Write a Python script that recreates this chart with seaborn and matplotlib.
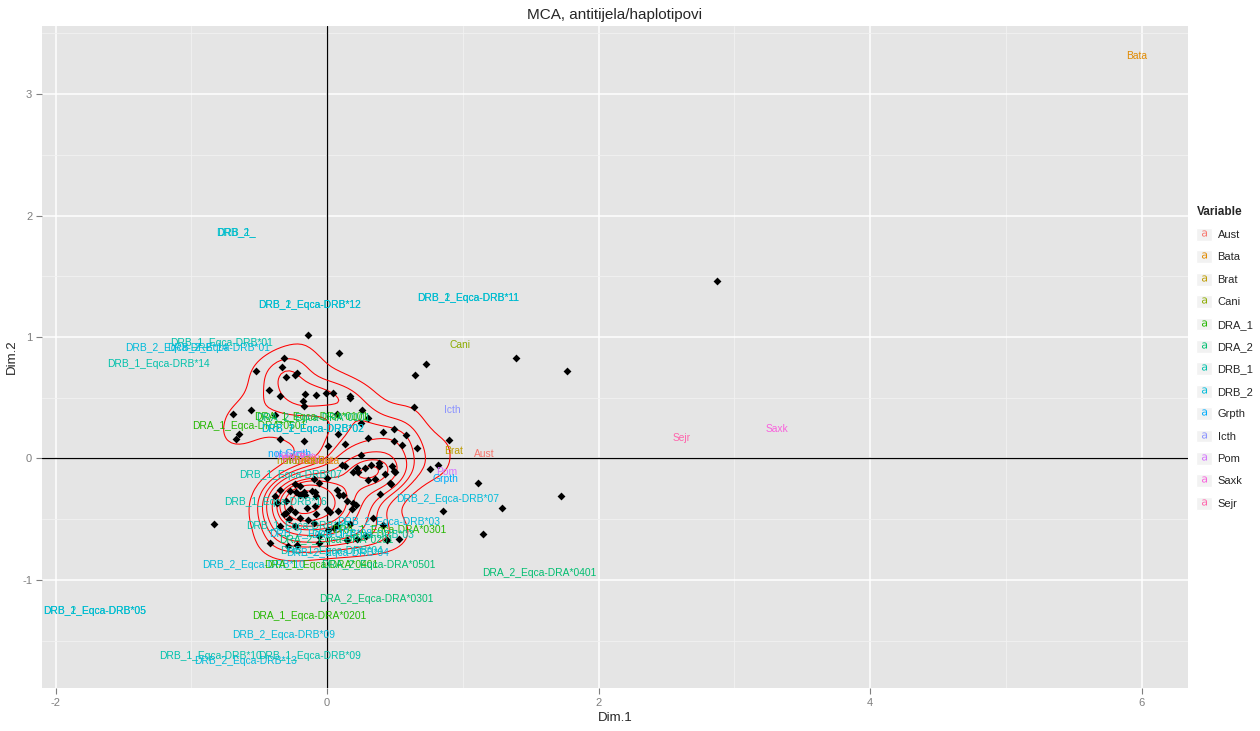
import matplotlib
matplotlib.use("Agg")
import matplotlib.pyplot as plt
from matplotlib.lines import Line2D
from matplotlib.patches import Patch
import seaborn as sns
import pandas as pd

sns.set_theme(style="darkgrid", rc={"axes.facecolor": "#E5E5E5", "grid.color": "white"})
plt.rcParams["font.family"] = ["Liberation Sans", "DejaVu Sans"]
plt.rcParams["axes.unicode_minus"] = False

# individuals (MCA row coordinates)
ind_dim1 = [
    -0.14, 0.09, 0.73, 0.65, -0.32, -0.33, -0.52, -0.30, -0.24, -0.22,
    -0.43, -0.35, -0.16, -0.08, -0.01, 0.04, 0.17, 0.17, -0.18, -0.17,
    -0.56, -0.69, -0.38, 0.64, 0.26, 0.07, 0.30, 0.25, -0.65, -0.67,
    -0.35, -0.17, 0.08, 0.13, 0.01, 0.30, 0.41, 0.49, 0.58, 0.49,
    0.55, 0.66, 0.25, 1.39, 1.77, 0.90, 2.87,
    0.82, 0.76, 1.11, 1.72, 0.85, 1.29, 1.15, 0.53, 0.41, 0.39,
    0.38, 0.38, 0.32, 0.28, 0.22, 0.19, 0.23, 0.48, 0.49, 0.50,
    0.43, 0.35, 0.30, 0.46, 0.47, 0.11, 0.13,
    -0.10, 0.00, -0.06, -0.24, -0.20, -0.35, -0.27, -0.23, -0.20, -0.16,
    -0.17, -0.11, -0.09, -0.08, 0.07, 0.09, 0.12, 0.15, 0.19, -0.38,
    -0.37, -0.30, -0.27, -0.24, -0.15, -0.09, -0.30, -0.32, -0.08, 0.00,
    0.02, 0.08, 0.18, 0.21, -0.28, -0.14, -0.20, -0.24, -0.10, 0.01,
    0.05, 0.07, 0.17, 0.34, -0.06, -0.35, 0.15, 0.22, 0.29, 0.44,
    -0.42, -0.29, -0.22, -0.06, -0.83,
]
ind_dim2 = [
    1.02, 0.87, 0.78, 0.69, 0.83, 0.75, 0.72, 0.67, 0.69, 0.70,
    0.56, 0.51, 0.53, 0.52, 0.54, 0.54, 0.51, 0.50, 0.47, 0.43,
    0.40, 0.37, 0.36, 0.42, 0.40, 0.37, 0.33, 0.29, 0.20, 0.16,
    0.16, 0.14, 0.20, 0.12, 0.10, 0.17, 0.22, 0.24, 0.19, 0.14,
    0.11, 0.09, 0.03, 0.83, 0.72, 0.15, 1.46,
    -0.05, -0.09, -0.20, -0.31, -0.43, -0.41, -0.62, -0.66, -0.55, -0.29,
    -0.04, -0.06, -0.05, -0.08, -0.08, -0.11, -0.11, -0.06, -0.10, -0.11,
    -0.13, -0.17, -0.18, -0.20, -0.21, -0.05, -0.06,
    -0.17, -0.16, -0.20, -0.21, -0.23, -0.26, -0.27, -0.28, -0.30, -0.30,
    -0.28, -0.27, -0.28, -0.31, -0.26, -0.30, -0.30, -0.35, -0.37, -0.31,
    -0.37, -0.35, -0.42, -0.44, -0.41, -0.39, -0.45, -0.46, -0.46, -0.42,
    -0.44, -0.43, -0.42, -0.38, -0.50, -0.51, -0.49, -0.56, -0.53, -0.59,
    -0.57, -0.55, -0.54, -0.49, -0.64, -0.56, -0.67, -0.66, -0.64, -0.67,
    -0.70, -0.72, -0.71, -0.70, -0.54,
]

# categories (MCA column coordinates)
cat_label = [
    "Bata", "DRB_1_", "DRB_2_", "DRB_1_Eqca-DRB*12", "DRB_2_Eqca-DRB*12",
    "DRB_1_Eqca-DRB*11", "DRB_2_Eqca-DRB*11", "Cani", "DRB_1_Eqca-DRB*01",
    "DRB_2_Eqca-DRB*14", "DRB_2_Eqca-DRB*01", "DRB_1_Eqca-DRB*14", "Icth",
    "DRA_1_Eqca-DRA*0101", "DRA_2_Eqca-DRA*0101", "DRA_1_Eqca-DRA*0501",
    "DRB_1_Eqca-DRB*02", "DRB_2_Eqca-DRB*02", "Brat", "Aust", "Pom", "Grpth",
    "Sejr", "Saxk",
    "not Grpth", "not Icth", "not Pom", "not Sejr", "not Saxk", "not Brat",
    "not Cani", "not Aust", "not Bata",
    "DRB_1_Eqca-DRB*07", "DRB_2_Eqca-DRB*07", "DRB_1_Eqca-DRB*16",
    "DRB_2_Eqca-DRB*03", "DRA_1_Eqca-DRA*0301", "DRB_1_Eqca-DRB*03",
    "DRB_1_Eqca-DRB*08", "DRB_2_Eqca-DRB*08", "DRA_2_Eqca-DRA*0201",
    "DRB_1_Eqca-DRB*04", "DRB_2_Eqca-DRB*04", "DRB_2_Eqca-DRB*10",
    "DRA_1_Eqca-DRA*0401", "DRA_2_Eqca-DRA*0501", "DRA_2_Eqca-DRA*0401",
    "DRA_2_Eqca-DRA*0301", "DRA_1_Eqca-DRA*0201", "DRB_2_Eqca-DRB*09",
    "DRB_1_Eqca-DRB*10", "DRB_2_Eqca-DRB*13", "DRB_1_Eqca-DRB*09",
    "DRB_1_Eqca-DRB*05", "DRB_2_Eqca-DRB*05",
]
cat_variable = [
    "Bata", "DRB_1", "DRB_2", "DRB_1", "DRB_2",
    "DRB_1", "DRB_2", "Cani", "DRB_1",
    "DRB_2", "DRB_2", "DRB_1", "Icth",
    "DRA_1", "DRA_2", "DRA_1",
    "DRB_1", "DRB_2", "Brat", "Aust", "Pom", "Grpth",
    "Sejr", "Saxk",
    "Grpth", "Icth", "Pom", "Sejr", "Saxk", "Brat",
    "Cani", "Aust", "Bata",
    "DRB_1", "DRB_2", "DRB_1",
    "DRB_2", "DRA_1", "DRB_1",
    "DRB_1", "DRB_2", "DRA_2",
    "DRB_1", "DRB_2", "DRB_2",
    "DRA_1", "DRA_2", "DRA_2",
    "DRA_2", "DRA_1", "DRB_2",
    "DRB_1", "DRB_2", "DRB_1",
    "DRB_1", "DRB_2",
]
cat_dim1 = [
    5.96, -0.67, -0.67, -0.13, -0.13,
    1.04, 1.04, 0.98, -0.78,
    -1.11, -0.80, -1.24, 0.92,
    -0.12, -0.10, -0.57,
    -0.11, -0.11, 0.93, 1.16, 0.88, 0.87,
    2.61, 3.31,
    -0.28, -0.26, -0.22, -0.20, -0.18, -0.24,
    -0.16, -0.10, -0.05,
    -0.27, 0.89, -0.38,
    0.45, 0.46, 0.26,
    -0.22, -0.05, 0.07,
    0.03, 0.08, -0.54,
    -0.04, 0.38, 1.56,
    0.36, -0.13, -0.32,
    -0.86, -0.60, -0.13,
    -1.71, -1.71,
]
cat_dim2 = [
    3.31, 1.86, 1.86, 1.26, 1.26,
    1.32, 1.32, 0.93, 0.95,
    0.91, 0.91, 0.78, 0.40,
    0.34, 0.33, 0.27,
    0.24, 0.24, 0.06, 0.04, -0.11, -0.17,
    0.17, 0.24,
    0.04, 0.03, 0.01, 0.00, -0.01, -0.02,
    -0.02, -0.02, -0.02,
    -0.14, -0.33, -0.36,
    -0.52, -0.59, -0.63,
    -0.56, -0.62, -0.67,
    -0.76, -0.78, -0.88,
    -0.88, -0.88, -0.94,
    -1.16, -1.30, -1.45,
    -1.63, -1.67, -1.63,
    -1.26, -1.26,
]

variables = ["Aust", "Bata", "Brat", "Cani", "DRA_1", "DRA_2", "DRB_1",
             "DRB_2", "Grpth", "Icth", "Pom", "Saxk", "Sejr"]
hue_colors = ["#F8766D", "#E18A00", "#BE9C00", "#8CAB00", "#24B700", "#00BE70",
              "#00C1AB", "#00BBDA", "#00ACFC", "#8B93FF", "#D575FE", "#F962DD",
              "#FF65AC"]
palette = dict(zip(variables, hue_colors))

# iso-proportion levels for the density contours
density_levels = [0.18, 0.32, 0.45, 0.56, 0.66, 0.75, 0.83, 0.9, 0.96]

ind = pd.DataFrame({"Dim.1": ind_dim1, "Dim.2": ind_dim2})
cats = pd.DataFrame({"label": cat_label, "Variable": cat_variable,
                     "Dim.1": cat_dim1, "Dim.2": cat_dim2})

fig = plt.figure(figsize=(12.6, 7.31), dpi=100)
ax = fig.add_axes([0.0333, 0.0588, 0.9095, 0.9056])

ax.set_xticks([-2, 0, 2, 4, 6])
ax.set_xticks([-1, 1, 3, 5], minor=True)
ax.set_yticks([-1, 0, 1, 2, 3])
ax.set_yticks([-1.5, -0.5, 0.5, 1.5, 2.5, 3.5], minor=True)
ax.grid(which="major", color="white", lw=1.1)
ax.grid(which="minor", color="#F2F2F2", lw=0.6)
ax.set_axisbelow(True)

ax.axhline(0, color="black", lw=0.9, zorder=1)
ax.axvline(0, color="black", lw=0.9, zorder=1)

# 2d density of the individuals
sns.kdeplot(data=ind, x="Dim.1", y="Dim.2", ax=ax, color="red",
            levels=density_levels, bw_adjust=0.62, gridsize=150,
            linewidths=0.75, zorder=2)
sns.scatterplot(data=ind, x="Dim.1", y="Dim.2", ax=ax, marker="D", s=16,
                color="black", linewidth=0, zorder=3)

for _, r in cats.iterrows():
    ax.text(r["Dim.1"], r["Dim.2"], r["label"], color=palette[r["Variable"]],
            fontsize=7.4, ha="center", va="center", zorder=4)

ax.set_xlim(-2.1, 6.34)
ax.set_ylim(-1.89, 3.56)
for s in ax.spines.values():
    s.set_visible(False)
ax.tick_params(which="major", length=4, width=0.8, color="#7F7F7F",
               labelcolor="#7F7F7F", labelsize=8, bottom=True, left=True, pad=3)
ax.tick_params(which="minor", length=0)
ax.set_xlabel("Dim.1", fontsize=9.5, labelpad=3)
ax.set_ylabel("Dim.2", fontsize=9.5, labelpad=3)
ax.set_title("MCA, antitijela/haplotipovi", fontsize=11, pad=5)

handles = [(Patch(facecolor="#F2F2F2", edgecolor="white"),
            Line2D([], [], marker=r"$\mathrm{a}$", color=c, linestyle="",
                   markersize=4.5, markeredgewidth=0))
           for c in hue_colors]
fig.legend(handles, variables, title="Variable", loc="upper left",
           bbox_to_anchor=(1192 / 1260, 1 - 202 / 731), frameon=False,
           fontsize=8, title_fontproperties={"weight": "bold", "size": 8.5},
           handlelength=1.4, handleheight=1.4, handletextpad=0.5,
           labelspacing=0.86, alignment="left", borderaxespad=0)

plt.savefig("out.png", dpi=100)
plt.close(fig)
